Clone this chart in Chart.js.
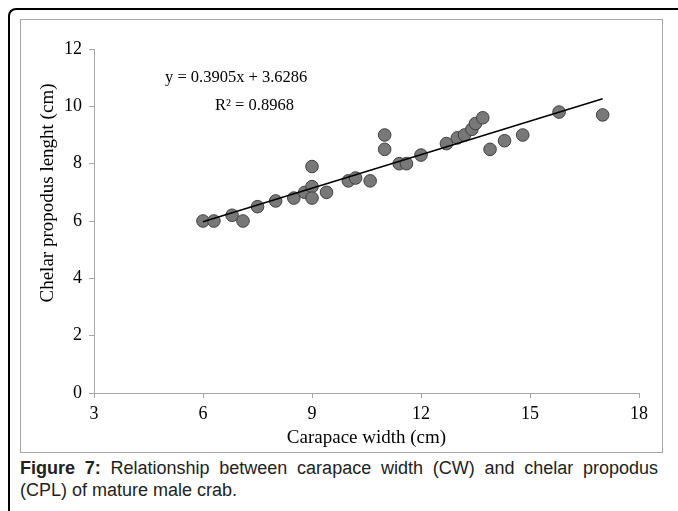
<!DOCTYPE html>
<html>
<head>
<meta charset="utf-8">
<script src="https://cdn.jsdelivr.net/npm/chart.js@4"></script>
<style>
  body { margin: 0; background: #fff; width: 678px; height: 511px; overflow: hidden; position: relative; }
  #frame { position: absolute; left: 8px; top: 8px; width: 680px; height: 510px;
           border-left: 2px solid #000; border-top: 2px solid #000; border-top-left-radius: 8px; }
  #box { position: absolute; left: 20px; top: 19px; width: 641px; height: 432px; border: 1px solid #a6a6a6; }
  #box canvas { display: block; }
  #caption { position: absolute; left: 20px; top: 457px; width: 638px;
             font-family: "Liberation Sans", Arial, sans-serif; font-size: 18px; line-height: 22px; color: #222; }
  #caption .first { text-align: justify; text-align-last: justify; white-space: nowrap; }
</style>
</head>
<body>
<div id="frame"></div>
<div id="box"><canvas id="chart-1" width="641" height="432"></canvas></div>
<div id="caption">
  <div class="first"><b>Figure 7:</b> Relationship between carapace width (CW) and chelar propodus</div>
  <div>(CPL) of mature male crab.</div>
</div>
<script>
// Data
const carapaceWidth = [6.0, 6.3, 6.8, 7.1, 7.5, 8.0, 8.5, 8.8, 9.0, 9.0, 9.0, 9.4, 10.0, 10.2, 10.6, 11.0, 11.0, 11.4, 11.6, 12.0, 12.7, 13.0, 13.2, 13.4, 13.5, 13.7, 13.9, 14.3, 14.8, 15.8, 17.0];
const propodusLength = [6.0, 6.0, 6.2, 6.0, 6.5, 6.7, 6.8, 7.0, 7.2, 6.8, 7.9, 7.0, 7.4, 7.5, 7.4, 9.0, 8.5, 8.0, 8.0, 8.3, 8.7, 8.9, 9.0, 9.2, 9.4, 9.6, 8.5, 8.8, 9.0, 9.8, 9.7];
const xTicks = [3, 6, 9, 12, 15, 18];
const yTicks = [0, 2, 4, 6, 8, 10, 12];
const slope = 0.3905;
const intercept = 3.6286;
const rSquared = "0.8968";
const trendRange = [6.0, 17.0];

const serif = '"Liberation Serif", "Times New Roman", serif';

const points = carapaceWidth.map((x, i) => ({ x: x, y: propodusLength[i] }));
const trend = trendRange.map(x => ({ x: x, y: slope * x + intercept }));

// equation + y title (the title sits a bit above the axis middle, like the original)
const labels = {
  id: "labels",
  afterDraw(chart) {
    const c = chart.ctx;
    c.save();
    c.fillStyle = "#000";
    c.font = "16.5px " + serif;
    c.textBaseline = "middle";
    c.textAlign = "left";
    c.fillText("y = " + slope + "x + " + intercept, 144, 58);
    c.fillText("R² = " + rSquared, 194, 86);

    c.translate(27, 173);
    c.rotate(-Math.PI / 2);
    c.textAlign = "center";
    c.font = "19px " + serif;
    c.fillText("Chelar propodus lenght (cm)", 0, 0);
    c.restore();
  },
};

const ctx1 = document.getElementById("chart-1").getContext("2d");
const myChart = new Chart(ctx1, {
  type: "scatter",
  data: {
    datasets: [
      {
        label: "CPL",
        data: points,
        backgroundColor: "#787878",
        borderColor: "#404040",
        borderWidth: 1,
        pointRadius: 6.3,
        order: 2,
      },
      {
        label: "Trend",
        type: "line",
        data: trend,
        borderColor: "#000",
        borderWidth: 1.5,
        pointRadius: 0,
        fill: false,
        order: 1,
      },
    ],
  },
  options: {
    responsive: false,
    animation: false,
    layout: { padding: { left: 0, right: 23, top: 29, bottom: 0 } },
    plugins: { legend: { display: false }, tooltip: { enabled: false } },
    scales: {
      x: {
        type: "linear",
        min: 3,
        max: 18,
        afterBuildTicks: axis => { axis.ticks = xTicks.map(v => ({ value: v })); },
        afterFit: axis => { axis.height = 59; },
        grid: { drawOnChartArea: false, drawTicks: true, tickLength: 5, color: "#a6a6a6" },
        border: { color: "#a6a6a6", width: 1 },
        ticks: { color: "#000", font: { family: serif, size: 18 }, padding: 5, maxRotation: 0 },
        title: { display: true, text: "Carapace width (cm)", color: "#000", font: { family: serif, size: 19 }, padding: { top: 3, bottom: 3 } },
      },
      y: {
        type: "linear",
        min: 0,
        max: 12,
        afterBuildTicks: axis => { axis.ticks = yTicks.map(v => ({ value: v })); },
        afterFit: axis => { axis.width = 73; },
        grid: { drawOnChartArea: false, drawTicks: true, tickLength: 5, color: "#a6a6a6" },
        border: { color: "#a6a6a6", width: 1 },
        ticks: { color: "#000", font: { family: serif, size: 18 }, padding: 7 },
      },
    },
  },
  plugins: [labels],
});
</script>
</body>
</html>
